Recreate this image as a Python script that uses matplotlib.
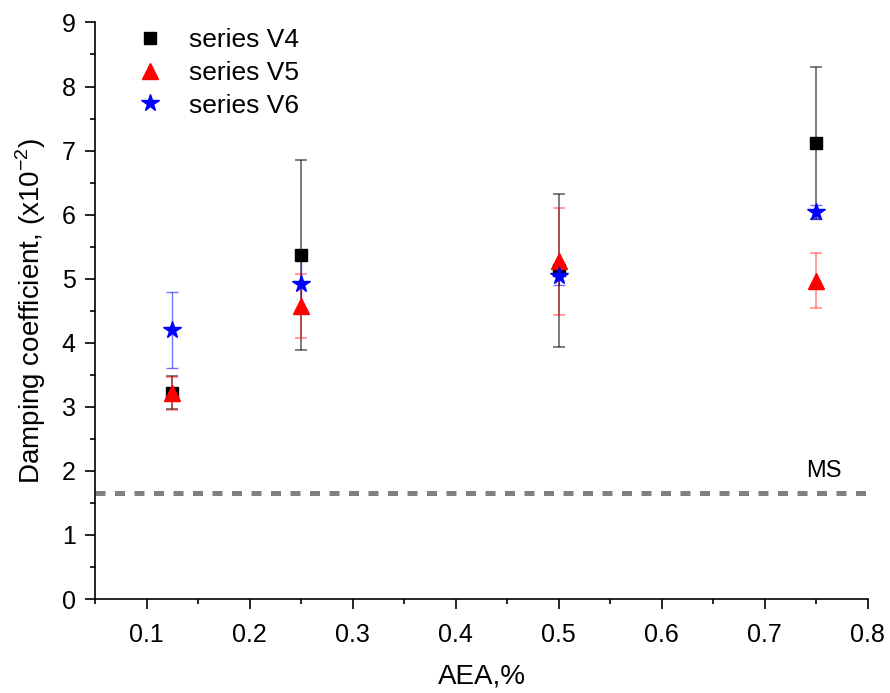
import matplotlib
matplotlib.use("Agg")
import matplotlib.pyplot as plt
from matplotlib.ticker import MultipleLocator

plt.rcParams['font.family'] = ['Liberation Sans', 'DejaVu Sans']
plt.rcParams['mathtext.fontset'] = 'custom'
plt.rcParams['mathtext.rm'] = 'Liberation Sans'

x = [0.125, 0.25, 0.5, 0.75]
v4 = [3.22, 5.37, 5.13, 7.12]
v4_err = [0.26, 1.49, 1.19, 1.19]
v5 = [3.21, 4.57, 5.27, 4.97]
v5_err = [0.26, 0.5, 0.83, 0.43]
v6 = [4.20, 4.92, 5.04, 6.04]
v6_err = [0.60, 0.40, 0.14, 0.11]
ms_level = 1.66

fig = plt.figure(figsize=(8.9, 6.93), dpi=100)
ax = fig.add_axes([0.107, 0.1356, 0.868, 0.832])

ax.axhline(ms_level, color='#808080', lw=3.6, ls=(0, (2.0, 1.9)), zorder=1)
ax.text(0.757, 1.90, 'MS', fontsize=17, ha='center', va='baseline')

ax.errorbar(x, v4, yerr=v4_err, fmt='none', ecolor=(0, 0, 0, 0.6), elinewidth=1.2, capsize=4.5, capthick=1.2, zorder=2)
ax.errorbar(x, v5, yerr=v5_err, fmt='none', ecolor=(1, 0, 0, 0.45), elinewidth=1.2, capsize=4.5, capthick=1.2, zorder=2)
ax.errorbar(x, v6, yerr=v6_err, fmt='none', ecolor=(0, 0, 1, 0.55), elinewidth=1.0, capsize=4.5, capthick=1.0, zorder=2)

ax.plot(x, v4, ls='none', marker='s', ms=8.5, color='black', label='series V4', zorder=3)
ax.plot(x, v5, ls='none', marker='^', ms=12, color='red', label='series V5', zorder=4)
ax.plot(x, v6, ls='none', marker='*', ms=13, color='blue', label='series V6', zorder=5)

ax.set_xlim(0.05, 0.8)
ax.set_ylim(0, 9)
ax.xaxis.set_major_locator(MultipleLocator(0.1))
ax.xaxis.set_minor_locator(MultipleLocator(0.05))
ax.yaxis.set_major_locator(MultipleLocator(1))
ax.yaxis.set_minor_locator(MultipleLocator(0.5))
ax.spines['top'].set_visible(False)
ax.spines['right'].set_visible(False)
for s in ['left', 'bottom']:
    ax.spines[s].set_linewidth(1.2)
ax.tick_params(which='major', direction='out', length=7, width=1.2, labelsize=18)
ax.tick_params(which='minor', direction='out', length=3.6, width=1.2)
ax.tick_params(axis='x', which='major', pad=10)
ax.tick_params(axis='y', which='major', pad=7)

ax.set_xlabel('AEA,%', fontsize=20, labelpad=12)
ax.set_ylabel(r'Damping coefficient, (x10$^{\mathregular{-2}}$)', fontsize=20, labelpad=10)

ax.legend(loc='upper left', bbox_to_anchor=(0.054, 0.990), frameon=False, fontsize=19,
          handlelength=1.0, handletextpad=0.96, labelspacing=0.33, borderpad=0, borderaxespad=0,
          markerscale=1.0)

fig.savefig('out.png', dpi=100)
